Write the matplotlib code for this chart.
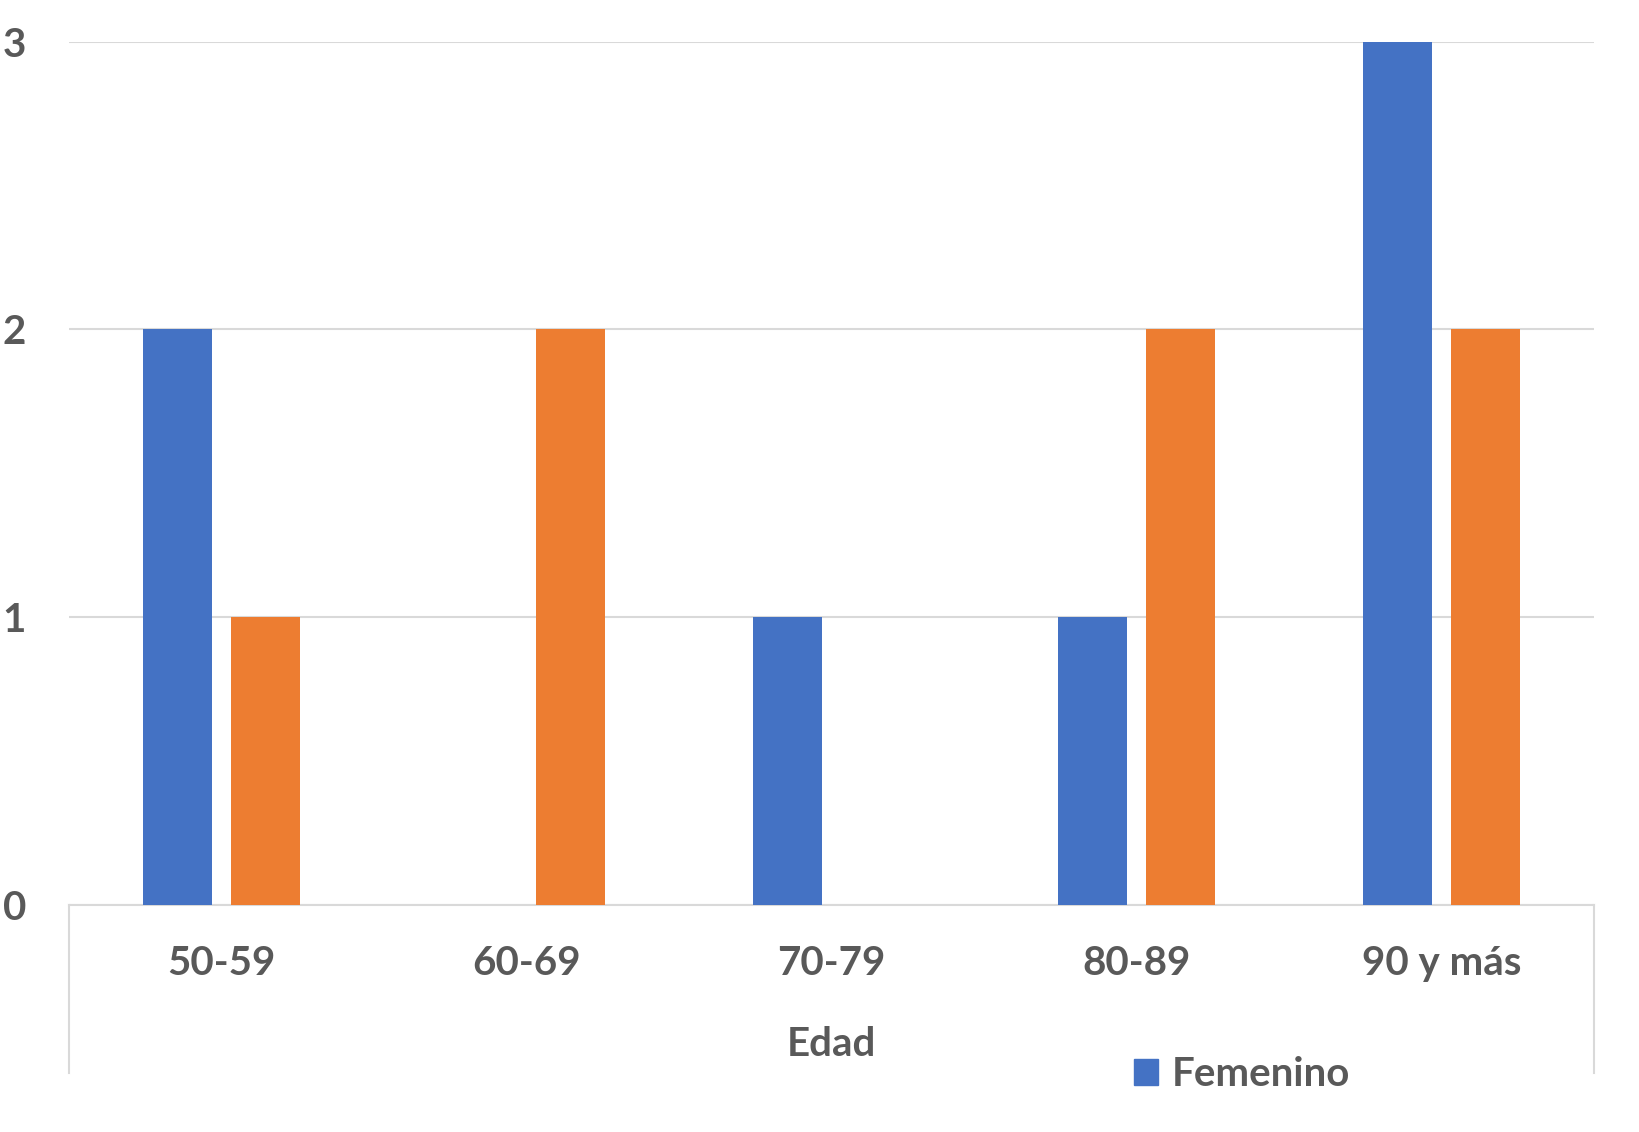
import numpy as np
import matplotlib.pyplot as plt
from matplotlib.lines import Line2D
from matplotlib.patches import Patch

categorias = ["50-59", "60-69", "70-79", "80-89", "90 y más"]
femenino = [2, 0, 1, 1, 3]
masculino = [1, 2, 0, 2, 2]
yticks = [0, 1, 2, 3]

azul = '#4472C4'
naranja = '#ED7D31'
gris_texto = '#595959'
gris_linea = '#D9D9D9'

plt.rcParams['font.family'] = ['Lato', 'DejaVu Sans']
plt.rcParams['font.weight'] = 'bold'

fig = plt.figure(figsize=(16.39, 11.32), dpi=100)
ax = fig.add_axes([0.0421, 0.2005, 0.9304, 0.7628])

x = np.arange(len(categorias))
ancho = 0.226
ax.bar(x - 0.143, femenino, ancho, color=azul, label="Femenino", zorder=3)
ax.bar(x + 0.143, masculino, ancho, color=naranja, label="Masculino", zorder=3)

ax.set_xlim(-0.5, len(categorias) - 0.5)
ax.set_ylim(0, 3)
ax.set_yticks(yticks)
ax.set_xticks(x)
ax.set_xticklabels(categorias)
ax.grid(axis='y', color=gris_linea, linewidth=1.5, zorder=0)
ax.set_axisbelow(True)

for s in ['top', 'right', 'left']:
    ax.spines[s].set_visible(False)
ax.spines['bottom'].set_color(gris_linea)
ax.spines['bottom'].set_linewidth(1.5)

ax.tick_params(axis='both', length=0, labelsize=29, colors=gris_texto)
ax.tick_params(axis='y', pad=31)
ax.tick_params(axis='x', pad=29)
for lab in ax.get_xticklabels() + ax.get_yticklabels():
    lab.set_fontweight('bold')

# lineas verticales del borde del eje de categorias
for xf in [0.0421, 0.9725]:
    fig.add_artist(Line2D([xf, xf], [0.2005, 0.052], color=gris_linea,
                          linewidth=1.5, transform=fig.transFigure))

fig.text(0.507, 0.0769, "Edad", ha='center', va='center', fontsize=29,
         fontweight='bold', color=gris_texto)

fig.legend(handles=[Patch(color=azul)], labels=["Femenino"], loc='center left',
           bbox_to_anchor=(0.692, 0.0504), frameon=False,
           handlelength=0.6, handleheight=0.6, handletextpad=0.33,
           borderpad=0, borderaxespad=0, labelcolor=gris_texto,
           prop={'weight': 'bold', 'size': 29})

plt.savefig("out.png", dpi=100)
